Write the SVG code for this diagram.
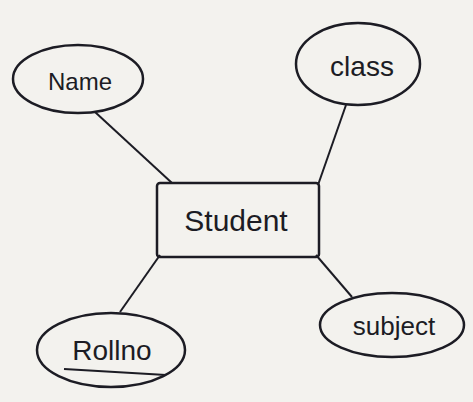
<svg xmlns="http://www.w3.org/2000/svg" width="473" height="402" viewBox="0 0 473 402">
<style>
.shape{fill:none;stroke:#1c1c24;stroke-width:2.5}
.edge{stroke:#1c1c24;stroke-width:2;fill:none}
.lbl{font-family:"Liberation Sans",Arial,sans-serif;fill:#1c1c24;text-anchor:middle;dominant-baseline:central}
</style>
<rect width="473" height="402" fill="#f3f2ee"/>
<g id="connectors">
<line class="edge" x1="95" y1="112" x2="172" y2="183"/>
<line class="edge" x1="346" y1="105" x2="318" y2="185"/>
<line class="edge" x1="160" y1="255" x2="120" y2="312"/>
<line class="edge" x1="316" y1="255" x2="352" y2="297"/>
</g>
<g id="student">
<rect class="shape" x="157" y="183" width="162" height="74" rx="3"/>
<text class="lbl" x="236" y="220" font-size="30">Student</text>
</g>
<g id="name">
<ellipse class="shape" cx="78" cy="79" rx="65" ry="34"/>
<text class="lbl" x="80" y="81" font-size="24">Name</text>
</g>
<g id="class">
<ellipse class="shape" cx="358" cy="64" rx="62" ry="41"/>
<text class="lbl" x="362" y="66" font-size="28">class</text>
</g>
<g id="rollno">
<ellipse class="shape" cx="111" cy="350" rx="74" ry="37"/>
<text class="lbl" x="112" y="350" font-size="28">Rollno</text>
<line class="edge" x1="64" y1="369" x2="166" y2="375"/>
</g>
<g id="subject">
<ellipse class="shape" cx="392" cy="325" rx="72" ry="32"/>
<text class="lbl" x="394" y="326" font-size="26">subject</text>
</g>
</svg>
